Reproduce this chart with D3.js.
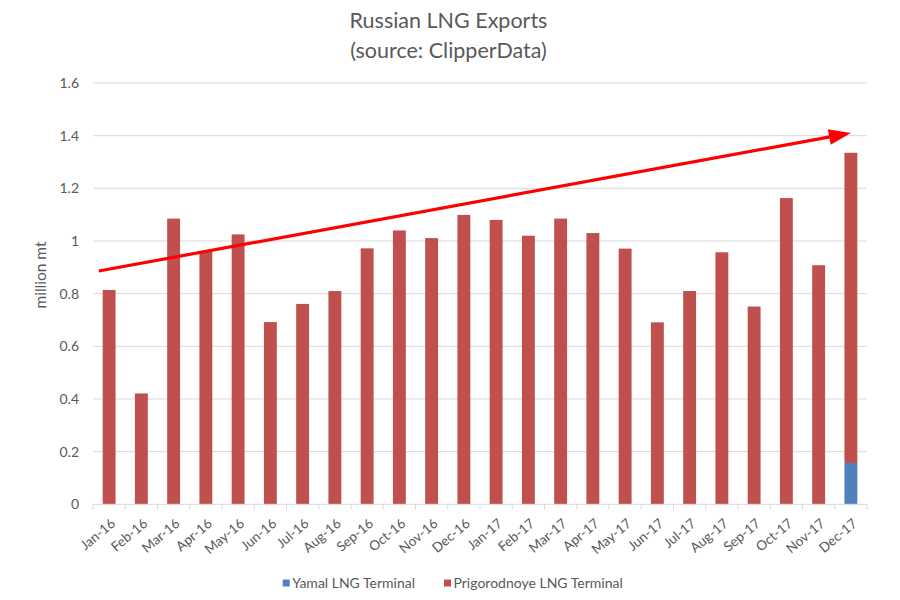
<!DOCTYPE html>
<html>
<head>
<meta charset="utf-8">
<script src="https://cdn.jsdelivr.net/npm/d3@7"></script>
<style>
  html, body { margin: 0; padding: 0; background: #fff; }
  svg { display: block; font-family: Lato, "Open Sans", sans-serif; }
</style>
</head>
<body>
<svg id="chart" width="900" height="600"></svg>
<script>
const months = ["Jan-16","Feb-16","Mar-16","Apr-16","May-16","Jun-16","Jul-16","Aug-16","Sep-16","Oct-16","Nov-16","Dec-16",
                "Jan-17","Feb-17","Mar-17","Apr-17","May-17","Jun-17","Jul-17","Aug-17","Sep-17","Oct-17","Nov-17","Dec-17"];
const yamal = [0,0,0,0,0,0,0,0,0,0,0,0, 0,0,0,0,0,0,0,0,0,0,0,0.157];
const prigorodnoye = [0.814,0.421,1.085,0.962,1.025,0.692,0.761,0.810,0.972,1.040,1.011,1.099,
                      1.080,1.020,1.085,1.030,0.971,0.691,0.810,0.957,0.751,1.163,0.908,1.178];
const yTicks = [0,0.2,0.4,0.6,0.8,1,1.2,1.4,1.6];
const seriesNames = ["Yamal LNG Terminal","Prigorodnoye LNG Terminal"];
const seriesColors = ["#4F81BD","#C0504D"];
// trend arrow annotation (month, fractional band shift, value)
const arrowFrom = {month: "Jan-16", shift: -0.32, value: 0.886};
const arrowTo   = {month: "Dec-17", shift: 0, value: 1.41};

(function () {
const svg = d3.select("#chart");
const pLeft = 93, pRight = 867, pTop = 83, pBottom = 504.3;
const grey = "#595959";

const x = d3.scaleBand().domain(months).range([pLeft, pRight]).paddingInner(0.6).paddingOuter(0.3);
const y = d3.scaleLinear().domain([0, 1.6]).range([pBottom, pTop]);

// gridlines
svg.append("g").selectAll("line").data(yTicks.filter(d => d > 0)).join("line")
  .attr("x1", pLeft).attr("x2", pRight)
  .attr("y1", d => y(d)).attr("y2", d => y(d))
  .attr("stroke", "#d9d9d9").attr("stroke-width", 1);

// y labels
svg.append("g").selectAll("text").data(yTicks).join("text")
  .attr("x", 79).attr("y", d => y(d)).attr("dy", "0.35em")
  .attr("text-anchor", "end").attr("font-size", 14).attr("fill", grey)
  .text(d => d3.format("~g")(d));

// stacked data
const table = months.map((m, i) => ({month: m, yamal: yamal[i], prig: prigorodnoye[i]}));
const stack = d3.stack().keys(["yamal", "prig"])(table);
svg.append("g").selectAll("g").data(stack).join("g")
  .attr("fill", (d, i) => seriesColors[i])
  .selectAll("rect").data(d => d).join("rect")
  .attr("x", d => x(d.data.month))
  .attr("width", x.bandwidth())
  .attr("y", d => y(d[1]))
  .attr("height", d => Math.max(0, y(d[0]) - y(d[1])));

// x axis line and ticks
const step = x.step();
svg.append("line").attr("x1", pLeft).attr("x2", pRight).attr("y1", pBottom).attr("y2", pBottom)
  .attr("stroke", "#d9d9d9").attr("stroke-width", 1);
svg.append("g").selectAll("line").data(d3.range(months.length + 1)).join("line")
  .attr("x1", i => pLeft + i * step).attr("x2", i => pLeft + i * step)
  .attr("y1", pBottom).attr("y2", pBottom + 5)
  .attr("stroke", "#d9d9d9");

// x labels
svg.append("g").selectAll("text").data(months).join("text")
  .attr("transform", d => `translate(${x(d) + x.bandwidth() / 2 + 4},${pBottom + 17}) rotate(-40)`)
  .attr("text-anchor", "end").attr("dy", "0.35em")
  .attr("font-size", 13.5).attr("fill", grey)
  .text(d => d);

// y axis title
svg.append("text")
  .attr("transform", "translate(46,275) rotate(-90)")
  .attr("text-anchor", "middle").attr("font-size", 15.5).attr("fill", grey)
  .text("million mt");

// title
svg.append("text").attr("x", 448.5).attr("y", 28).attr("text-anchor", "middle")
  .attr("font-size", 21.5).attr("fill", grey).text("Russian LNG Exports");
svg.append("text").attr("x", 448.5).attr("y", 57.5).attr("text-anchor", "middle")
  .attr("font-size", 21.5).attr("fill", grey).text("(source: ClipperData)");

// trend arrow
const px = a => x(a.month) + x.bandwidth() / 2 + a.shift * step;
const x0 = px(arrowFrom), y0 = y(arrowFrom.value);
const x1 = px(arrowTo), y1 = y(arrowTo.value);
const len = Math.hypot(x1 - x0, y1 - y0);
const ux = (x1 - x0) / len, uy = (y1 - y0) / len;
const headLen = 22, headHalf = 8;
const bx = x1 - ux * headLen, by = y1 - uy * headLen;
svg.append("line").attr("x1", x0).attr("y1", y0).attr("x2", bx + ux * 2).attr("y2", by + uy * 2)
  .attr("stroke", "#FF0000").attr("stroke-width", 3.2);
svg.append("path")
  .attr("d", `M${x1},${y1} L${bx - uy * headHalf},${by + ux * headHalf} L${bx + uy * headHalf},${by - ux * headHalf} Z`)
  .attr("fill", "#FF0000");

// legend: second item starts at 444, first item's text ends at 415
const legend = svg.append("g");
const ly = 583;
legend.append("text").attr("x", 453.5).attr("y", ly).attr("dy", "0.35em")
  .attr("font-size", 14).attr("fill", grey).text(seriesNames[1]);
legend.append("rect").attr("x", 444).attr("y", ly - 3.5).attr("width", 7).attr("height", 7)
  .attr("fill", seriesColors[1]);
const t1 = legend.append("text").attr("x", 415).attr("y", ly).attr("dy", "0.35em")
  .attr("text-anchor", "end").attr("font-size", 14).attr("fill", grey).text(seriesNames[0]);
const w1 = t1.node().getComputedTextLength();
legend.append("rect").attr("x", 415 - w1 - 9.5).attr("y", ly - 3.5).attr("width", 7).attr("height", 7)
  .attr("fill", seriesColors[0]);
})();
</script>
</body>
</html>
